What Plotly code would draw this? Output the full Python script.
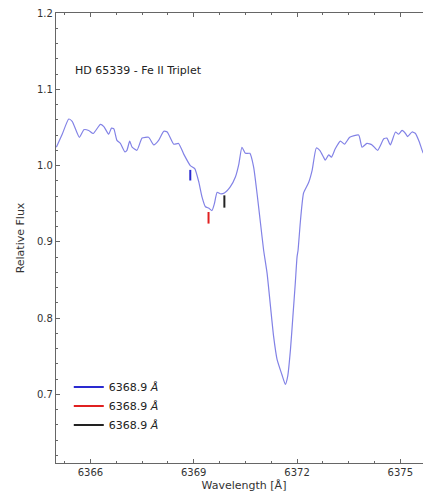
import plotly.graph_objects as go

wavelength = [6365.01, 6365.18, 6365.37, 6365.47, 6365.68, 6365.81, 6365.95, 6366.08, 6366.29, 6366.39,
              6366.53, 6366.61, 6366.68, 6366.77, 6366.87, 6367.00, 6367.06, 6367.14, 6367.21, 6367.35,
              6367.50, 6367.69, 6367.84, 6367.98, 6368.13, 6368.23, 6368.42, 6368.56, 6368.71, 6368.90,
              6369.03, 6369.15, 6369.24, 6369.34, 6369.44, 6369.53, 6369.60, 6369.68, 6369.77, 6369.89,
              6370.06, 6370.21, 6370.31, 6370.40, 6370.50, 6370.63, 6370.74, 6370.84, 6370.94, 6371.03,
              6371.13, 6371.23, 6371.32, 6371.42, 6371.56, 6371.66, 6371.73, 6371.81, 6371.88, 6371.95,
              6372.00, 6372.03, 6372.10, 6372.19, 6372.34, 6372.44, 6372.56, 6372.66, 6372.77, 6372.82,
              6372.92, 6373.00, 6373.11, 6373.26, 6373.38, 6373.53, 6373.79, 6373.89, 6374.03, 6374.18,
              6374.34, 6374.52, 6374.61, 6374.71, 6374.86, 6374.95, 6375.05, 6375.15, 6375.21, 6375.34,
              6375.44, 6375.56, 6375.66, 6375.80]
flux = [1.024, 1.041, 1.061, 1.058, 1.037, 1.047, 1.046, 1.042, 1.054, 1.051,
        1.041, 1.049, 1.048, 1.033, 1.029, 1.018, 1.020, 1.032, 1.024, 1.020,
        1.036, 1.037, 1.027, 1.033, 1.045, 1.044, 1.028, 1.029, 1.015, 1.000,
        0.996, 0.978, 0.959, 0.946, 0.944, 0.941, 0.950, 0.965, 0.963, 0.964,
        0.972, 0.985, 1.002, 1.024, 1.016, 1.016, 0.998, 0.963, 0.924, 0.889,
        0.859, 0.815, 0.776, 0.746, 0.726, 0.713, 0.724, 0.759, 0.802, 0.846,
        0.880, 0.889, 0.928, 0.964, 0.978, 0.994, 1.023, 1.020, 1.011, 1.007,
        1.014, 1.011, 1.022, 1.032, 1.028, 1.037, 1.040, 1.024, 1.029, 1.027,
        1.020, 1.035, 1.036, 1.027, 1.044, 1.041, 1.046, 1.042, 1.038, 1.044,
        1.042, 1.030, 1.017, 1.010]

line_names = ["6368.9 <i>Å</i>", "6368.9 <i>Å</i>", "6368.9 <i>Å</i>"]
line_positions = [6368.90, 6369.43, 6369.89]
marker_top = [0.9943, 0.9391, 0.9609]
marker_bottom = [0.9804, 0.9239, 0.9448]
marker_colors = ["#2a2ad0", "#e02020", "#222222"]

x_ticks = [6366, 6369, 6372, 6375]
y_ticks = [0.7, 0.8, 0.9, 1.0, 1.1, 1.2]

fig = go.Figure()
fig.add_trace(go.Scatter(x=wavelength, y=flux, mode="lines",
                         line=dict(color="#8282e6", width=1.2, shape="spline", smoothing=0.5),
                         showlegend=False, hoverinfo="skip"))
for name, xp, yt, yb, c in zip(line_names, line_positions, marker_top, marker_bottom, marker_colors):
    fig.add_trace(go.Scatter(x=[xp, xp], y=[yb, yt], mode="lines", name=name,
                             line=dict(color=c, width=2)))

axis_common = dict(showline=True, linecolor="#666666", linewidth=1.3, mirror="allticks",
                   ticks="inside", ticklen=4, tickcolor="#666666", showgrid=False, zeroline=False,
                   automargin=False,
                   tickfont=dict(family="DejaVu Sans", size=10, color="#333333"))
fig.update_xaxes(range=[6365.0, 6375.92], tickvals=x_ticks, ticktext=[str(t) for t in x_ticks],
                 minor=dict(ticks="inside", ticklen=2, dtick=0.75, tick0=6366, tickcolor="#666666"),
                 title=dict(text="Wavelength [Å]", font=dict(family="DejaVu Sans", size=11, color="#333333"), standoff=4),
                 **axis_common)
fig.update_yaxes(range=[0.61, 1.2], tickvals=y_ticks, ticktext=["0.7", "0.8", "0.9", "1.0", "1.1", "1.2"],
                 minor=dict(ticks="inside", ticklen=2, dtick=0.02, tick0=0.6, tickcolor="#666666"),
                 title=dict(text="Relative Flux", font=dict(family="DejaVu Sans", size=11, color="#333333"), standoff=10),
                 **axis_common)

fig.add_annotation(x=0.045, y=0.873, xref="paper", yref="paper", xanchor="left", yanchor="middle",
                   text="HD 65339 - Fe II Triplet", showarrow=False,
                   font=dict(family="DejaVu Sans", size=11, color="#222222"))

fig.update_layout(width=432, height=495, margin=dict(l=56, r=0, t=13, b=32),
                  paper_bgcolor="white", plot_bgcolor="white",
                  legend=dict(x=0.034, y=0.201, xanchor="left", yanchor="top", bgcolor="rgba(0,0,0,0)",
                              font=dict(family="DejaVu Sans", size=11, color="#222222"),
                              tracegroupgap=0, itemwidth=30))

fig.write_html("out.html", config={"displayModeBar": False},
               post_script="document.body.style.margin='0';document.body.style.overflow='hidden';")
